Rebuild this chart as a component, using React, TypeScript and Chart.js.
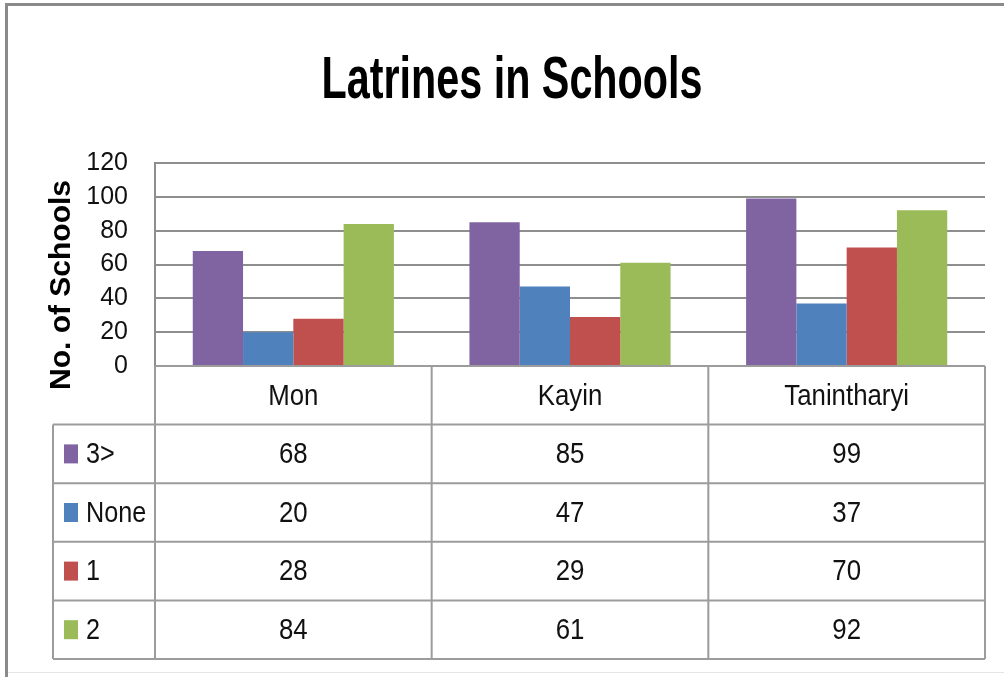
import React, { useEffect, useRef } from "react";
import { Chart, registerables } from "chart.js";

Chart.register(...registerables);

// ---- data ----
const categories = ["Mon", "Kayin", "Tanintharyi"];
const seriesNames = ["3>", "None", "1", "2"];
const values3Plus = [68, 85, 99];
const valuesNone = [20, 47, 37];
const values1 = [28, 29, 70];
const values2 = [84, 61, 92];
const seriesColors = ["#8064A2", "#4F81BD", "#C0504D", "#9BBB59"];
const yTickMin = 0;
const yTickMax = 120;
const yTickStep = 20;

const chartTitle = "Latrines in Schools";
const yAxisTitle = "No. of Schools";

// ---- style ----
const SANS = '"Liberation Sans", Arial, sans-serif';
const GRID = "#8e8e8e";
const TABLE_LINE = "#9c9c9c";
const ROW_H = 58.6;

function drawCondensed(
  ctx: CanvasRenderingContext2D,
  text: string,
  x: number,
  y: number,
  align: CanvasTextAlign,
  sx: number
) {
  ctx.save();
  ctx.translate(x, y);
  ctx.scale(sx, 1);
  ctx.textAlign = align;
  ctx.fillText(text, 0, 0);
  ctx.restore();
}

const tablePlugin = {
  id: "dataTable",
  afterDraw(chart: any) {
    const ctx: CanvasRenderingContext2D = chart.ctx;
    const xs = chart.scales.x;
    const area = chart.chartArea;
    const labels: string[] = chart.data.labels;
    const datasets: any[] = chart.data.datasets;
    const top = area.bottom;
    const nRows = 1 + datasets.length;
    const bottom = top + ROW_H * nRows;
    const legendLeft = 53;
    const n = labels.length;
    const colW = (xs.right - xs.left) / n;

    ctx.save();
    // title
    ctx.font = `bold 59px ${SANS}`;
    ctx.fillStyle = "#000";
    ctx.textBaseline = "alphabetic";
    drawCondensed(ctx, chartTitle, 512, 98, "center", 0.7);

    // table grid
    ctx.strokeStyle = TABLE_LINE;
    ctx.lineWidth = 2;
    ctx.beginPath();
    ctx.moveTo(xs.left, top);
    ctx.lineTo(xs.right, top);
    for (let r = 1; r <= nRows; r++) {
      const yy = top + r * ROW_H;
      ctx.moveTo(legendLeft, yy);
      ctx.lineTo(xs.right, yy);
    }
    for (let c = 0; c <= n; c++) {
      const xx = xs.left + c * colW;
      ctx.moveTo(xx, top);
      ctx.lineTo(xx, bottom);
    }
    ctx.moveTo(legendLeft, top + ROW_H);
    ctx.lineTo(legendLeft, bottom);
    ctx.stroke();

    // table text
    ctx.font = `30px ${SANS}`;
    ctx.textBaseline = "middle";
    ctx.fillStyle = "#111";
    labels.forEach((lab, i) =>
      drawCondensed(ctx, lab, xs.getPixelForValue(i), top + ROW_H / 2 + 1, "center", 0.86)
    );

    datasets.forEach((ds, r) => {
      const cy = top + (r + 1.5) * ROW_H;
      ctx.fillStyle = ds.backgroundColor;
      ctx.fillRect(64, cy - 9.5, 14, 19);
      ctx.fillStyle = "#111";
      drawCondensed(ctx, ds.label, 86, cy + 1, "left", 0.84);
      ds.data.forEach((v: number, i: number) =>
        drawCondensed(ctx, String(v), xs.getPixelForValue(i), cy + 1, "center", 0.86)
      );
    });

    // y axis title
    ctx.translate(62, 285);
    ctx.rotate(-Math.PI / 2);
    ctx.font = `bold 30px ${SANS}`;
    ctx.fillStyle = "#000";
    ctx.textAlign = "center";
    ctx.fillText(yAxisTitle, 0, 0);
    ctx.restore();
  },
};

export default function App() {
  const ref = useRef<HTMLCanvasElement | null>(null);

  useEffect(() => {
    if (!ref.current) return;
    const seriesValues = [values3Plus, valuesNone, values1, values2];
    const chart = new Chart(ref.current, {
      type: "bar",
      data: {
        labels: categories,
        datasets: seriesNames.map((name, i) => ({
          label: name,
          data: seriesValues[i],
          backgroundColor: seriesColors[i],
          borderWidth: 0,
          barPercentage: 1,
          categoryPercentage: 0.727,
        })),
      },
      options: {
        responsive: false,
        animation: false,
        layout: { padding: { left: 0, right: 19, top: 163, bottom: 311 } },
        plugins: {
          legend: { display: false },
          tooltip: { enabled: false },
          title: { display: false },
        },
        scales: {
          x: { display: false },
          y: {
            min: yTickMin,
            max: yTickMax,
            ticks: {
              stepSize: yTickStep,
              autoSkip: false,
              color: "#111",
              padding: 27,
              font: { family: SANS, size: 25 },
            },
            grid: { color: GRID, lineWidth: 2, drawTicks: false },
            border: { display: true, color: GRID, width: 2 },
            afterFit: (s: any) => {
              s.width = 155;
            },
          },
        },
      },
      plugins: [tablePlugin],
    });
    return () => chart.destroy();
  }, []);

  return (
    <div style={{ position: "fixed", left: 0, top: 0, width: 1004, height: 677, background: "#fff" }}>
      <canvas ref={ref} width={1004} height={677} style={{ position: "absolute", left: 0, top: 0 }} />
      <div style={{ position: "absolute", left: 5, top: 3, width: 999, height: 3, background: "#8a8a8a" }} />
      <div style={{ position: "absolute", left: 5, top: 3, width: 3, height: 674, background: "#8a8a8a" }} />
      <div style={{ position: "absolute", left: 8, top: 672, width: 996, height: 1, background: "#e4e4e4" }} />
    </div>
  );
}
